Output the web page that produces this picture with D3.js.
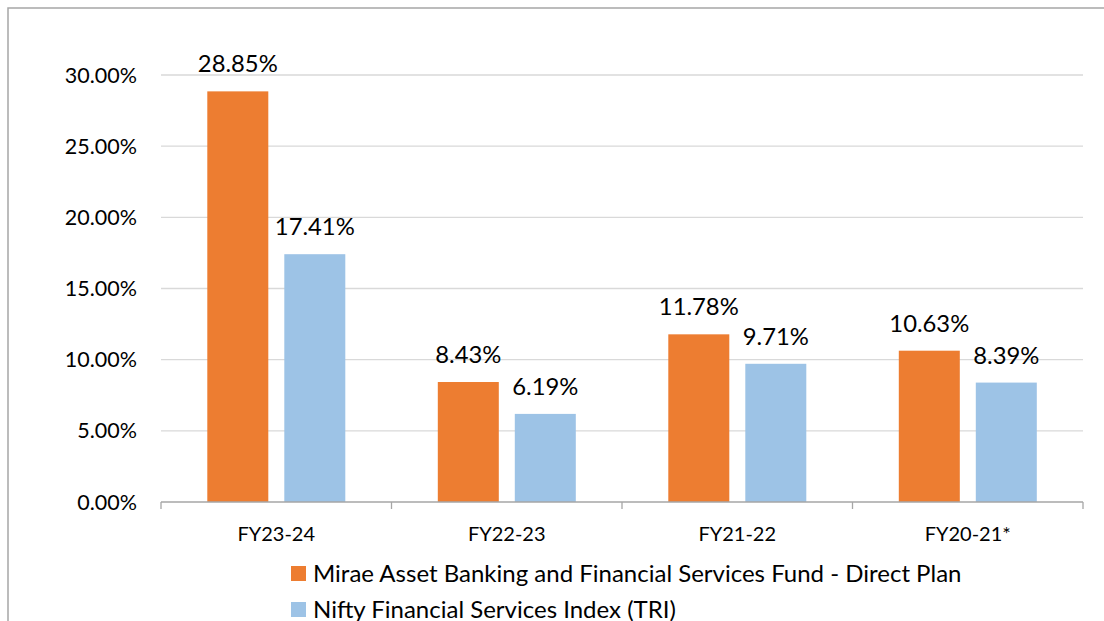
<!DOCTYPE html>
<html><head><meta charset="utf-8">
<script src="https://cdn.jsdelivr.net/npm/d3@7"></script>
<style>body{margin:0;background:#fff}svg{display:block}text{font-family:Lato,"Open Sans",sans-serif;fill:#000}</style>
</head><body>
<svg id="c" width="1104" height="621"></svg>
<script>
const categories = ["FY23-24","FY22-23","FY21-22","FY20-21*"];
const seriesNames = ["Mirae Asset Banking and Financial Services Fund - Direct Plan","Nifty Financial Services Index (TRI)"];
const fundValues = [28.85, 8.43, 11.78, 10.63];
const indexValues = [17.41, 6.19, 9.71, 8.39];
const yTicks = [0,5,10,15,20,25,30];
const colors = ["#ED7D31","#9DC3E6"];

const svg = d3.select("#c");
svg.append("path").attr("d","M8,621V8H1104").attr("fill","none").attr("stroke","#a6a6a6").attr("stroke-width",1.5);

const L=161,R=1083,T=75,B=502;
const x0 = d3.scaleBand().domain(categories).range([L,R]);
const x1 = d3.scaleBand().domain(seriesNames).range([46.3,184.3]).paddingInner(16/77);
const y = d3.scaleLinear().domain([0,30]).range([B,T]);

svg.append("g").selectAll("line").data(yTicks.filter(d=>d>0)).join("line")
  .attr("x1",L).attr("x2",R).attr("y1",d=>y(d)).attr("y2",d=>y(d))
  .attr("stroke","#d9d9d9").attr("stroke-width",1.3);

svg.append("g").selectAll("text").data(yTicks).join("text")
  .attr("x",137).attr("y",d=>y(d)).attr("dy","0.35em").attr("text-anchor","end")
  .style("font-size","21.5px").text(d=>d.toFixed(2)+"%");

const data = categories.map((c,i)=>({c, vals:[fundValues[i],indexValues[i]]}));
const g = svg.append("g").selectAll("g").data(data).join("g").attr("transform",d=>`translate(${x0(d.c)},0)`);
g.selectAll("rect").data(d=>d.vals.map((v,j)=>({v,s:seriesNames[j],j}))).join("rect")
  .attr("x",d=>x1(d.s)).attr("width",x1.bandwidth())
  .attr("y",d=>y(d.v)).attr("height",d=>B-y(d.v)).attr("fill",d=>colors[d.j]);
g.selectAll("text").data(d=>d.vals.map((v,j)=>({v,s:seriesNames[j],j}))).join("text")
  .attr("x",d=>x1(d.s)+x1.bandwidth()/2).attr("y",d=>y(d.v)-19)
  .attr("text-anchor","middle").style("font-size","23.8px").text(d=>d.v.toFixed(2)+"%");

svg.append("line").attr("x1",L).attr("x2",R).attr("y1",B).attr("y2",B).attr("stroke","#a6a6a6").attr("stroke-width",1.3);
const bounds = categories.map(c=>x0(c)).concat([R]);
svg.append("g").selectAll("line").data(bounds).join("line")
  .attr("x1",d=>d).attr("x2",d=>d).attr("y1",B).attr("y2",B+7).attr("stroke","#a6a6a6").attr("stroke-width",1.3);
svg.append("g").selectAll("text").data(categories).join("text")
  .attr("x",d=>x0(d)+x0.bandwidth()/2).attr("y",541).attr("text-anchor","middle")
  .style("font-size","20px").text(d=>d);

const lg = svg.append("g").selectAll("g").data(seriesNames).join("g")
  .attr("transform",(d,i)=>`translate(291,${566+i*36})`);
lg.append("rect").attr("width",15).attr("height",15).attr("fill",(d,i)=>colors[i]);
lg.append("text").attr("x",22).attr("y",15.5).style("font-size","24px").text(d=>d);
</script>
</body></html>
